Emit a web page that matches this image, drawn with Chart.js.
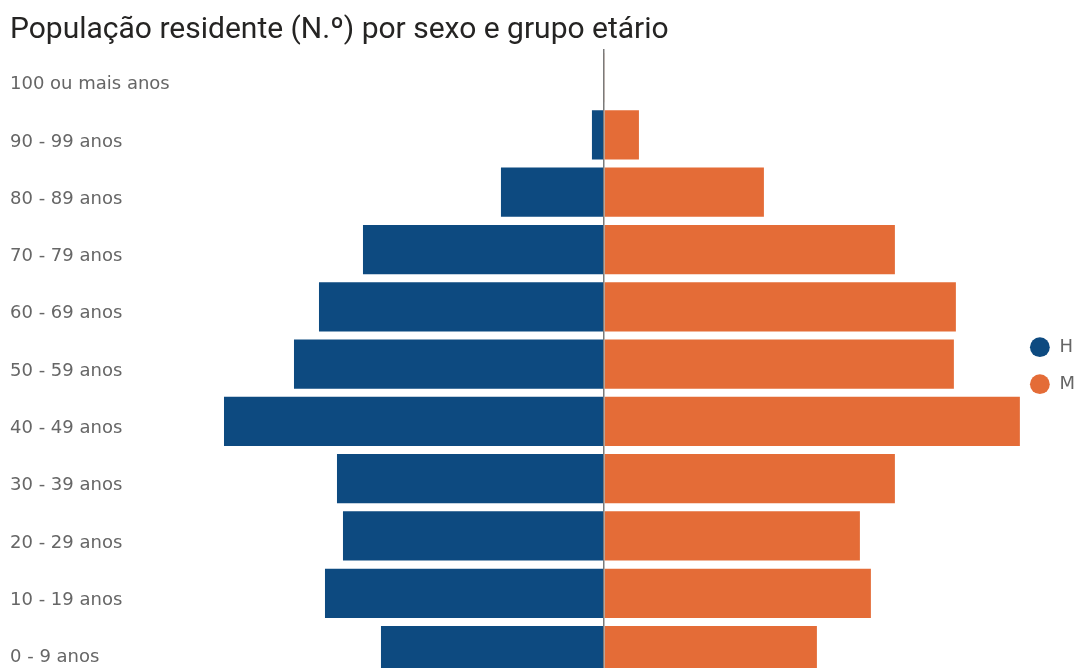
<!DOCTYPE html>
<html>
<head>
<meta charset="utf-8">
<script src="https://cdn.jsdelivr.net/npm/chart.js@4"></script>
<style>
  html, body { margin: 0; padding: 0; background: #fff; overflow: hidden; }
  #wrap { position: relative; width: 1078px; height: 690px; }
</style>
</head>
<body>
<div id="wrap"><canvas id="pyramidChart"></canvas></div>
<script>
const ageGroups = ['100 ou mais anos', '90 - 99 anos', '80 - 89 anos', '70 - 79 anos', '60 - 69 anos',
    '50 - 59 anos', '40 - 49 anos', '30 - 39 anos', '20 - 29 anos', '10 - 19 anos', '0 - 9 anos'];
// homens (drawn to the left) and mulheres
const homens = [4, 120, 1030, 2410, 2850, 3100, 3800, 2670, 2610, 2790, 2230];
const mulheres = [6, 350, 1600, 2910, 3520, 3500, 4160, 2910, 2560, 2670, 2130];

const titleFont = "Roboto, 'DejaVu Sans Condensed', sans-serif";
const labelFont = "'DejaVu Sans', sans-serif";

const ctx = document.getElementById('pyramidChart');

const myChart = new Chart(ctx, {
    type: 'bar',
    data: {
        labels: ageGroups,
        datasets: [{
            label: 'H',
            data: homens.map(v => -v),
            backgroundColor: '#0D4A80',
            borderWidth: 0,
        }, {
            label: 'M',
            data: mulheres,
            backgroundColor: '#E46C37',
            borderWidth: 0,
        }]
    },
    options: {
        indexAxis: 'y',
        responsive: true,
        maintainAspectRatio: false,
        animation: false,
        categoryPercentage: 0.86,
        barPercentage: 1,
        layout: { padding: { left: 10, right: -7, top: 0, bottom: 0 } },
        scales: {
            x: {
                stacked: true,
                min: -4240,
                max: 4250,
                ticks: { display: false },
                border: { display: false },
                grid: {
                    z: 1,
                    drawTicks: false,
                    lineWidth: 1.5,
                    color: c => c.tick && c.tick.value === 0 ? '#7a7a7a' : 'rgba(0,0,0,0)'
                }
            },
            y: {
                stacked: true,
                grid: { display: false },
                border: { display: false },
                ticks: {
                    crossAlign: 'far',
                    labelOffset: 7,
                    padding: 0,
                    color: '#666',
                    font: { family: labelFont, size: 18 }
                },
                afterFit: function (scale) {
                    scale.width = 170;
                }
            }
        },
        plugins: {
            title: {
                display: true,
                text: 'População residente (N.º) por sexo e grupo etário',
                align: 'start',
                color: '#252423',
                font: { family: titleFont, size: 30, weight: 'normal', lineHeight: 1.2 },
                padding: { top: 12, bottom: 1 }
            },
            legend: {
                position: 'right',
                // empty title only pushes the two items down a bit
                title: { display: true, text: '', font: { size: 12 }, padding: 21 },
                labels: {
                    usePointStyle: true,
                    pointStyle: 'circle',
                    boxWidth: 14,
                    boxHeight: 14,
                    padding: 4,
                    color: '#666',
                    font: { family: labelFont, size: 18, lineHeight: 1.8333 },
                    generateLabels: chart => Chart.defaults.plugins.legend.labels.generateLabels(chart)
                        .map(l => Object.assign(l, { text: ['\u2009' + l.text] }))
                }
            },
            tooltip: {
                callbacks: {
                    label: item => item.dataset.label + ': ' + Math.abs(item.raw)
                }
            }
        }
    }
});
</script>
</body>
</html>
